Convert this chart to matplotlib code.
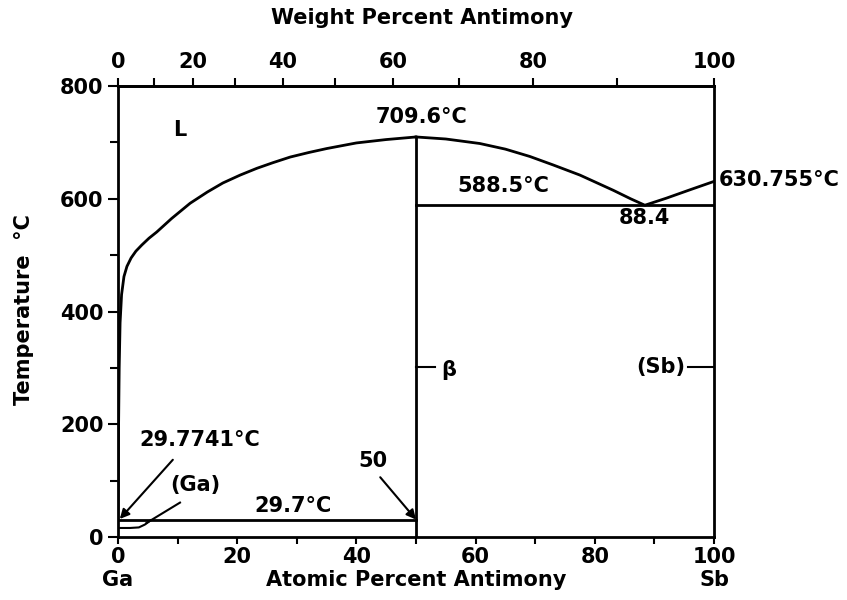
import numpy as np
import matplotlib.pyplot as plt
from matplotlib.ticker import MultipleLocator, FixedLocator

# Ga-Sb phase diagram
liq_ga_x = [0.0, 0.05, 0.1, 0.2, 0.35, 0.6, 1.0, 1.5, 2.2, 3.0, 4.0, 5.2, 6.5, 9.0, 12.1, 15.0, 17.6, 20.5,
            23.3, 26.0, 28.9, 32.0, 35.0, 40.0, 45.0, 50.0]
liq_ga_t = [29.77, 100, 200, 300, 380, 430, 462, 480, 495, 507, 518, 530, 541, 565, 592, 612, 628, 642,
            654, 664, 674, 682, 689, 699, 705, 709.6]
liq_sb_x = [50.0, 55.0, 60.7, 65.0, 69.1, 73.0, 77.5, 83.1, 86.0, 88.4, 92.0, 96.0, 100.0]
liq_sb_t = [709.6, 706, 698, 688, 675, 660, 642, 615, 600, 588.5, 601, 616, 630.755]
ga_ss_x = [0.0, 2.0, 3.5, 4.5, 5.5]
ga_ss_t = [16, 16, 17, 22, 29.7]

eut_ga = 29.7
eut_sb = 588.5
compound_x = 50.0
compound_t = 709.6

M_GA = 69.723
M_SB = 121.76


def wt_to_at(w):
    w = np.clip(np.asarray(w, dtype=float), 0, 100)
    a = w / M_SB
    b = (100 - w) / M_GA
    return 100 * a / (a + b + 1e-12)


def at_to_wt(x):
    x = np.clip(np.asarray(x, dtype=float), 0, 100)
    a = x * M_SB
    b = (100 - x) * M_GA
    return 100 * a / (a + b + 1e-12)


plt.rcParams['font.family'] = 'DejaVu Sans'
plt.rcParams['font.weight'] = 'bold'
fs = 15
lw = 2.0

fig = plt.figure(figsize=(8.47, 6), dpi=100)
ax = fig.add_axes([118/847, 1-537/600, (714-118)/847, (537-86)/600])

ax.plot(liq_ga_x, liq_ga_t, color='k', lw=lw)
ax.plot(liq_sb_x, liq_sb_t, color='k', lw=lw)
ax.plot(ga_ss_x, ga_ss_t, color='k', lw=1.5)
ax.plot([0, 50], [eut_ga, eut_ga], color='k', lw=lw)
ax.plot([50, 100], [eut_sb, eut_sb], color='k', lw=lw)
ax.plot([compound_x, compound_x], [0, compound_t], color='k', lw=lw)

ax.set_xlim(0, 100)
ax.set_ylim(0, 800)
for s in ax.spines.values():
    s.set_linewidth(lw)

ax.xaxis.set_major_locator(MultipleLocator(20))
ax.xaxis.set_minor_locator(MultipleLocator(10))
ax.yaxis.set_major_locator(MultipleLocator(200))
ax.yaxis.set_minor_locator(MultipleLocator(100))
ax.tick_params(which='both', direction='out', width=1.5, labelsize=fs)
ax.tick_params(which='major', length=7)
ax.tick_params(which='minor', length=6)
ax.tick_params(axis='x', which='both', length=5, pad=2)

top = ax.secondary_xaxis('top', functions=(at_to_wt, wt_to_at))
top.xaxis.set_major_locator(FixedLocator([0, 20, 40, 60, 80, 100]))
top.xaxis.set_minor_locator(FixedLocator([10, 30, 50, 70, 90]))
top.tick_params(which='both', direction='out', width=1.5, labelsize=fs, length=6, pad=4)
top.spines['top'].set_linewidth(lw)

fig.text(422/847, 1-18/600, 'Weight Percent Antimony', ha='center', va='center', fontsize=fs)
fig.text(416/847, 1-580/600, 'Atomic Percent Antimony', ha='center', va='center', fontsize=fs)
fig.text(118/847, 1-580/600, 'Ga', ha='center', va='center', fontsize=fs)
fig.text(714/847, 1-580/600, 'Sb', ha='center', va='center', fontsize=fs)
fig.text(24/847, 1-310/600, 'Temperature  °C', ha='center', va='center', fontsize=fs, rotation=90)

ax.text(10.4, 722, 'L', ha='center', va='center', fontsize=fs)
ax.text(51, 745, '709.6°C', ha='center', va='center', fontsize=fs)
ax.text(64.6, 622, '588.5°C', ha='center', va='center', fontsize=fs)
ax.text(88.4, 565, '88.4', ha='center', va='center', fontsize=fs)
ax.text(100.8, 633, '630.755°C', ha='left', va='center', fontsize=fs, clip_on=False)
ax.text(29.4, 55, '29.7°C', ha='center', va='center', fontsize=fs)
ax.text(13, 92, '(Ga)', ha='center', va='center', fontsize=fs)
ax.text(42.8, 135, '50', ha='center', va='center', fontsize=fs)
ax.text(13.8, 172, '29.7741°C', ha='center', va='center', fontsize=fs)

arrow = dict(arrowstyle='-|>', color='k', lw=1.5, mutation_scale=14, shrinkA=0, shrinkB=0)
ax.annotate('', xy=(0.3, 32), xytext=(9.2, 137), arrowprops=arrow)
ax.annotate('', xy=(50, 31), xytext=(44, 106), arrowprops=arrow)
ax.plot([4.8, 10.4], [25, 61], color='k', lw=1.5)

ax.plot([50, 53.2], [301, 301], color='k', lw=1.5)
ax.text(54.2, 296, 'β', ha='left', va='center', fontsize=fs)
ax.plot([95.6, 100], [301, 301], color='k', lw=1.5)
ax.text(95.2, 301, '(Sb)', ha='right', va='center', fontsize=fs)

fig.savefig('out.png', dpi=100)
